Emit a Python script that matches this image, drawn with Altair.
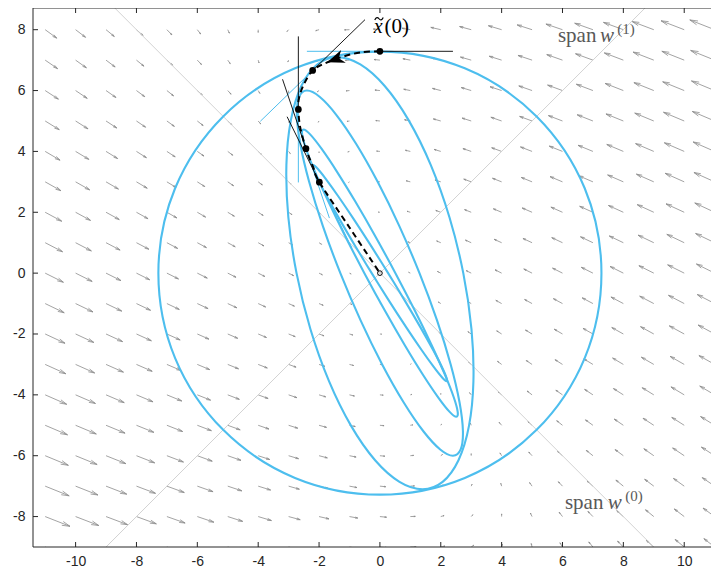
import altair as alt
import pandas as pd

# ---------------- data ----------------
# quiver grid (integer points) and linear field coefficients (arrow = scale*A*[x,y])
grid_x = list(range(-11, 12))
grid_y = list(range(-9, 10))
field_A = [[-2.0, -1.0], [1.0, 0.1]]
field_scale = 0.0272

# big circle (first level curve)
circle_x = [7.28, 6.73, 5.15, 2.79, 0.0, -2.79, -5.15, -6.73, -7.28, -6.73, -5.15, -2.79, 0.0, 2.79, 5.15, 6.73]
circle_y = [0.0, 2.79, 5.15, 6.73, 7.28, 6.73, 5.15, 2.79, 0.0, -2.79, -5.15, -6.73, -7.28, -6.73, -5.15, -2.79]

# nested loops (points traced around each closed curve)
e1_x = [-1.40, -0.643, 0.158, 0.947, 1.673, 2.285, 2.740, 3.009, 3.073, 2.927, 2.582, 2.061,
        1.40, 0.643, -0.158, -0.947, -1.673, -2.285, -2.740, -3.009, -3.073, -2.927, -2.582, -2.061]
e1_y = [7.10, 6.858, 6.149, 5.020, 3.550, 1.837, 0.0, -1.837, -3.550, -5.020, -6.149, -6.858,
        -7.10, -6.858, -6.149, -5.020, -3.550, -1.837, 0.0, 1.837, 3.550, 5.020, 6.149, 6.858]
e2_x = [-2.40, -1.982, -1.428, -0.778, -0.074, 0.635, 1.300, 1.877, 2.326, 2.616, 2.728, 2.654,
        2.40, 1.982, 1.428, 0.778, 0.074, -0.635, -1.300, -1.877, -2.326, -2.616, -2.728, -2.654]
e2_y = [6.00, 5.795, 5.196, 4.243, 3.000, 1.553, 0.0, -1.553, -3.000, -4.243, -5.196, -5.795,
        -6.00, -5.795, -5.196, -4.243, -3.000, -1.553, 0.0, 1.553, 3.000, 4.243, 5.196, 5.795]
e3_x = [-2.51, -2.292, -1.919, -1.414, -0.813, -0.157, 0.510, 1.143, 1.697, 2.136, 2.429, 2.556,
        2.51, 2.292, 1.919, 1.414, 0.813, 0.157, -0.510, -1.143, -1.697, -2.136, -2.429, -2.556]
e3_y = [4.72, 4.559, 4.088, 3.338, 2.360, 1.222, 0.0, -1.222, -2.360, -3.338, -4.088, -4.559,
        -4.72, -4.559, -4.088, -3.338, -2.360, -1.222, 0.0, 1.222, 2.360, 3.338, 4.088, 4.559]
e4_x = [-2.19, -2.045, -1.762, -1.358, -0.861, -0.306, 0.270, 0.828, 1.329, 1.740, 2.032, 2.185,
        2.19, 2.045, 1.762, 1.358, 0.861, 0.306, -0.270, -0.828, -1.329, -1.740, -2.032, -2.185]
e4_y = [3.55, 3.429, 3.074, 2.510, 1.775, 0.919, 0.0, -0.919, -1.775, -2.510, -3.074, -3.429,
        -3.55, -3.429, -3.074, -2.510, -1.775, -0.919, 0.0, 0.919, 1.775, 2.510, 3.074, 3.429]

# dashed path
path_x = [0.0, -0.6, -1.2, -1.75, -2.21, -2.50, -2.66, -2.68, -2.62, -2.43, -2.20, -1.99, -1.0, 0.0]
path_y = [7.29, 7.26, 7.12, 6.92, 6.66, 6.20, 5.75, 5.38, 4.80, 4.09, 3.50, 2.99, 1.50, 0.0]

# iterates (dots)
dot_x = [0.0, -2.21, -2.68, -2.43, -1.99]
dot_y = [7.29, 6.66, 5.38, 4.09, 2.99]
# tangent segment ends: backward (black) and forward (light blue)
back_x = [2.40, -0.49, -2.68, -3.20, -3.05]
back_y = [7.29, 8.33, 7.78, 6.37, 5.14]
fwd_x = [-2.40, -3.93, -2.68, -1.66, -0.93]
fwd_y = [7.29, 4.99, 2.98, 1.81, 0.84]

xt = [-10, -8, -6, -4, -2, 0, 2, 4, 6, 8, 10]
yt = [-8, -6, -4, -2, 0, 2, 4, 6, 8]

XMIN, XMAX = -11.40, 10.88
YMIN, YMAX = -9.0, 8.713
W, H = 678, 539
AX = "#262626"
BLUE = "#4DBEEE"

xs = alt.Scale(domain=[XMIN, XMAX], nice=False, zero=False)
ys = alt.Scale(domain=[YMIN, YMAX], nice=False, zero=False)
x_axis = alt.Axis(values=xt, ticks=False, domain=False, labelFont="Liberation Sans", labelFontSize=14,
                  labelColor=AX, labelPadding=7, title=None, grid=False, labelExpr="'' + datum.value")
y_axis = alt.Axis(values=yt, ticks=False, domain=False, labelFont="Liberation Sans", labelFontSize=14,
                  labelColor=AX, labelPadding=8, title=None, grid=False, labelExpr="'' + datum.value")


def X(f="x"):
    return alt.X(f, type="quantitative", scale=xs, axis=x_axis)


def Y(f="y"):
    return alt.Y(f, type="quantitative", scale=ys, axis=y_axis)


# ---------------- quiver ----------------
rows = []
a, b = field_A[0]
c, d = field_A[1]
for gx in grid_x:
    for gy in grid_y:
        u = field_scale * (a * gx + b * gy)
        v = field_scale * (c * gx + d * gy)
        tx, ty = gx + u, gy + v
        rows.append(dict(x=gx, y=gy, x2=tx, y2=ty))
        for s in (1, -1):
            bx = tx - 0.3 * (u + s * 0.25 * v)
            by = ty - 0.3 * (v - s * 0.25 * u)
            rows.append(dict(x=tx, y=ty, x2=bx, y2=by))
qdf = pd.DataFrame(rows)
quiver = alt.Chart(qdf).mark_rule(color="#8c8c8c", strokeWidth=0.8, clip=True).encode(
    x=X("x"), y=Y("y"), x2="x2", y2="y2")

# span lines
span_df = pd.DataFrame(dict(x=[-9.0, -9.0], y=[-9.0, 9.0], x2=[9.0, 9.0], y2=[9.0, -9.0]))
spans = alt.Chart(span_df).mark_rule(color="#d2d2d2", strokeWidth=1, clip=True).encode(
    x=X("x"), y=Y("y"), x2="x2", y2="y2")

# loops
loop_rows = []
for name, lx, ly in [("c", circle_x, circle_y), ("e1", e1_x, e1_y), ("e2", e2_x, e2_y),
                     ("e3", e3_x, e3_y), ("e4", e4_x, e4_y)]:
    for i, (px, py) in enumerate(zip(lx, ly)):
        loop_rows.append(dict(loop=name, i=i, x=px, y=py))
ldf = pd.DataFrame(loop_rows)
loops = alt.Chart(ldf).mark_line(color=BLUE, strokeWidth=2.1, interpolate="cardinal-closed", clip=True).encode(
    x=X("x"), y=Y("y"), detail="loop:N", order="i:Q")

# tangent segments
tb = pd.DataFrame(dict(x=dot_x, y=dot_y, x2=back_x, y2=back_y))
tf = pd.DataFrame(dict(x=dot_x, y=dot_y, x2=fwd_x, y2=fwd_y))
tan_b = alt.Chart(tb).mark_rule(color="black", strokeWidth=0.9).encode(x=X("x"), y=Y("y"), x2="x2", y2="y2")
tan_f = alt.Chart(tf).mark_rule(color=BLUE, strokeWidth=1).encode(x=X("x"), y=Y("y"), x2="x2", y2="y2")

# dashed path
pdf = pd.DataFrame(dict(i=range(len(path_x)), x=path_x, y=path_y))
path = alt.Chart(pdf).mark_line(color="black", strokeWidth=2, strokeDash=[6, 4], interpolate="cardinal").encode(
    x=X("x"), y=Y("y"), order="i:Q")

dots = alt.Chart(pd.DataFrame(dict(x=dot_x, y=dot_y))).mark_circle(color="black", size=45, opacity=1).encode(
    x=X("x"), y=Y("y"))
origin = alt.Chart(pd.DataFrame(dict(x=[0.0], y=[0.0]))).mark_point(
    color="black", size=22, strokeWidth=1, filled=False, opacity=1).encode(x=X("x"), y=Y("y"))

arrow_head = alt.Chart(pd.DataFrame(dict(x=[-1.45], y=[7.03]))).mark_point(
    shape="M-1,0 L0.9,-0.75 L0.35,0 L0.9,0.75 Z", size=330, filled=True, color="black", opacity=1, angle=340
).encode(x=X("x"), y=Y("y"))

# label x~(0): italic x, a drawn tilde accent, upright (0)
lab_x = alt.Chart(pd.DataFrame(dict(x=[-0.20], y=[7.89], t=["x"]))).mark_text(
    font="Liberation Serif", fontStyle="italic", fontSize=20, align="left", baseline="alphabetic", color="black"
).encode(x=X("x"), y=Y("y"), text="t:N")
lab_tilde = alt.Chart(pd.DataFrame(dict(x=[-0.03], y=[8.36]))).mark_point(
    shape="M-1,0.3 C-0.65,-0.45 -0.3,-0.4 0,0 C0.3,0.4 0.65,0.45 1,-0.3", size=72, filled=False,
    strokeWidth=1.2, color="black", opacity=1
).encode(x=X("x"), y=Y("y"))
lab_0 = alt.Chart(pd.DataFrame(dict(x=[0.15], y=[7.89], t=["(0)"]))).mark_text(
    font="Liberation Serif", fontSize=21, align="left", baseline="alphabetic", color="black"
).encode(x=X("x"), y=Y("y"), text="t:N")

GRAYTXT = "#595959"
span_words = pd.DataFrame(dict(x=[5.85, 6.08], y=[7.58, -7.76], t=["span", "span"]))
span_w = pd.DataFrame(dict(x=[7.23, 7.49], y=[7.58, -7.76], t=["w", "w"]))
span_sup = pd.DataFrame(dict(x=[7.80, 8.06], y=[7.86, -7.50], t=["(1)", "(0)"]))
sw1 = alt.Chart(span_words).mark_text(font="Liberation Serif", fontSize=21, align="left", baseline="alphabetic",
                                       color=GRAYTXT).encode(x=X("x"), y=Y("y"), text="t:N")
sw2 = alt.Chart(span_w).mark_text(font="Liberation Serif", fontStyle="italic", fontSize=21, align="left",
                                   baseline="alphabetic", color=GRAYTXT).encode(x=X("x"), y=Y("y"), text="t:N")
sw3 = alt.Chart(span_sup).mark_text(font="Liberation Serif", fontSize=15, align="left", baseline="alphabetic",
                                     color=GRAYTXT).encode(x=X("x"), y=Y("y"), text="t:N")

# axes with inward ticks
xticks_b = alt.Chart(pd.DataFrame(dict(x=xt))).mark_rule(color=AX, strokeWidth=1).encode(
    x=X("x"), y=alt.value(H), y2=alt.value(H - 5))
xticks_t = alt.Chart(pd.DataFrame(dict(x=xt))).mark_rule(color=AX, strokeWidth=1).encode(
    x=X("x"), y=alt.value(0), y2=alt.value(5))
yticks_l = alt.Chart(pd.DataFrame(dict(y=yt))).mark_rule(color=AX, strokeWidth=1).encode(
    y=Y("y"), x=alt.value(0), x2=alt.value(5))
frame_l = alt.Chart(pd.DataFrame(dict(a=[0]))).mark_rule(color=AX, strokeWidth=1).encode(
    x=alt.value(0), x2=alt.value(0), y=alt.value(0), y2=alt.value(H))
frame_b = alt.Chart(pd.DataFrame(dict(a=[0]))).mark_rule(color=AX, strokeWidth=1).encode(
    x=alt.value(0), x2=alt.value(W), y=alt.value(H), y2=alt.value(H))
frame_t = alt.Chart(pd.DataFrame(dict(a=[0]))).mark_rule(color=AX, strokeWidth=1).encode(
    x=alt.value(0), x2=alt.value(W), y=alt.value(0), y2=alt.value(0))

chart = alt.layer(
    quiver, spans, loops, tan_f, tan_b, path, dots, origin, arrow_head,
    lab_x, lab_tilde, lab_0, sw1, sw2, sw3,
    xticks_b, xticks_t, yticks_l, frame_l, frame_b, frame_t
).properties(
    width=W, height=H,
    autosize=alt.AutoSizeParams(type="none"),
    padding={"left": 25, "top": 0, "right": 0, "bottom": 22},
).configure_view(stroke=None)

chart.save("out.html", embed_options={"renderer": "svg", "actions": False})
